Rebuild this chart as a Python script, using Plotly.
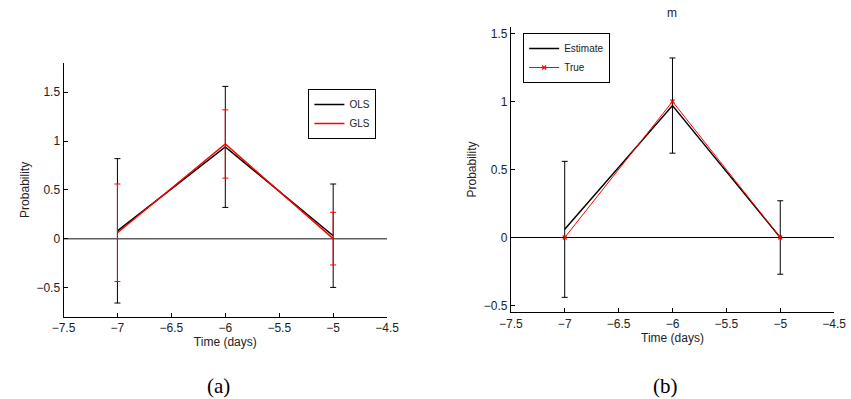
import plotly.graph_objects as go

# ---- data ----
days = [-7, -6, -5]

ols_mean = [0.08, 0.94, 0.03]
ols_err = [0.74, 0.62, 0.53]
gls_mean = [0.06, 0.97, 0.00]
gls_err = [0.50, 0.35, 0.27]

est_mean = [0.06, 0.97, 0.00]
est_err = [0.50, 0.35, 0.27]
true_vals = [0.0, 1.0, 0.0]

x_ticks = [-7.5, -7, -6.5, -6, -5.5, -5, -4.5]
left_y_ticks = [-0.5, 0, 0.5, 1, 1.5]
right_y_ticks = [-0.5, 0, 0.5, 1, 1.5]

W, H = 851, 399
FONT = "Liberation Sans, Arial, Helvetica, sans-serif"
SERIF = "Liberation Serif, Times New Roman, serif"

fig = go.Figure()

# Left panel
fig.add_trace(go.Scatter(
    x=days, y=ols_mean, mode="lines", name="OLS",
    line=dict(color="black", width=1.5),
    error_y=dict(type="data", array=ols_err, color="black", thickness=1, width=3),
    xaxis="x", yaxis="y", legend="legend"))
fig.add_trace(go.Scatter(
    x=days, y=gls_mean, mode="lines", name="GLS",
    line=dict(color="red", width=1.5),
    error_y=dict(type="data", array=gls_err, color="red", thickness=1, width=3),
    xaxis="x", yaxis="y", legend="legend"))

# Right panel
fig.add_trace(go.Scatter(
    x=days, y=est_mean, mode="lines", name="Estimate",
    line=dict(color="black", width=1.5),
    error_y=dict(type="data", array=est_err, color="black", thickness=1, width=3),
    xaxis="x2", yaxis="y2", legend="legend2"))
fig.add_trace(go.Scatter(
    x=days, y=true_vals, mode="lines+markers", name="True",
    line=dict(color="red", width=1),
    marker=dict(size=4, color="red", symbol="x-thin", line=dict(width=1.2, color="red")),
    xaxis="x2", yaxis="y2", legend="legend2"))

# zero reference lines
fig.add_shape(type="line", xref="x", yref="y", x0=-7.5, x1=-4.5, y0=0, y1=0,
              line=dict(color="#606060", width=1.5), layer="below")
fig.add_shape(type="line", xref="x2", yref="y2", x0=-7.5, x1=-4.5, y0=0, y1=0,
              line=dict(color="black", width=1), layer="below")

axis_common = dict(
    showgrid=False, zeroline=False, showline=True, linecolor="black", linewidth=1,
    ticks="inside", ticklen=4, tickcolor="black", mirror=False,
    tickfont=dict(family=FONT, size=12, color="#222"),
)

fig.update_layout(
    width=W, height=H,
    margin=dict(l=0, r=0, t=0, b=0),
    paper_bgcolor="white", plot_bgcolor="white",
    showlegend=True,
    font=dict(family=FONT, size=12, color="#222"),
    xaxis=dict(domain=[53/W, 386/W], range=[-7.5, -4.5], tickvals=x_ticks,
               anchor="y", title=dict(text="Time (days)", standoff=0, font=dict(size=12)),
               **axis_common),
    yaxis=dict(domain=[1-316.7/H, 1-63/H], range=[-0.8, 1.8], tickvals=left_y_ticks,
               anchor="x", title=dict(text="Probability", standoff=4, font=dict(size=12)),
               **axis_common),
    xaxis2=dict(domain=[513.3/W, 846/W], range=[-7.5, -4.5], tickvals=x_ticks,
                anchor="y2", title=dict(text="Time (days)", standoff=0, font=dict(size=12)),
                **axis_common),
    yaxis2=dict(domain=[1-312.3/H, 1-26.7/H], range=[-0.55, 1.55], tickvals=right_y_ticks,
                anchor="x2", title=dict(text="Probability", standoff=4, font=dict(size=12)),
                **axis_common),
    legend=dict(x=305/W, y=1-89/H, xanchor="left", yanchor="top",
                bgcolor="white", bordercolor="black", borderwidth=1,
                font=dict(family=FONT, size=10), itemwidth=30, tracegroupgap=0),
    legend2=dict(x=526/W, y=1-33/H, xanchor="left", yanchor="top",
                 bgcolor="white", bordercolor="black", borderwidth=1,
                 font=dict(family=FONT, size=10), itemwidth=30, tracegroupgap=0),
    annotations=[
        dict(text="m", x=(513.3+846)/2/W, y=1-13/H, xref="paper", yref="paper",
             showarrow=False, font=dict(family=FONT, size=12), xanchor="center", yanchor="middle"),
        dict(text="(a)", x=212/W, y=1-386/H, xref="paper", yref="paper",
             showarrow=False, font=dict(family=SERIF, size=21, color="black"),
             xanchor="center", yanchor="middle", borderpad=0),
        dict(text="(b)", x=672/W, y=1-386/H, xref="paper", yref="paper",
             showarrow=False, font=dict(family=SERIF, size=21, color="black"),
             xanchor="center", yanchor="middle", borderpad=0),
    ],
)

fig.write_html("out.html", config={"displayModeBar": False},
               post_script="document.body.style.margin='0px';")
